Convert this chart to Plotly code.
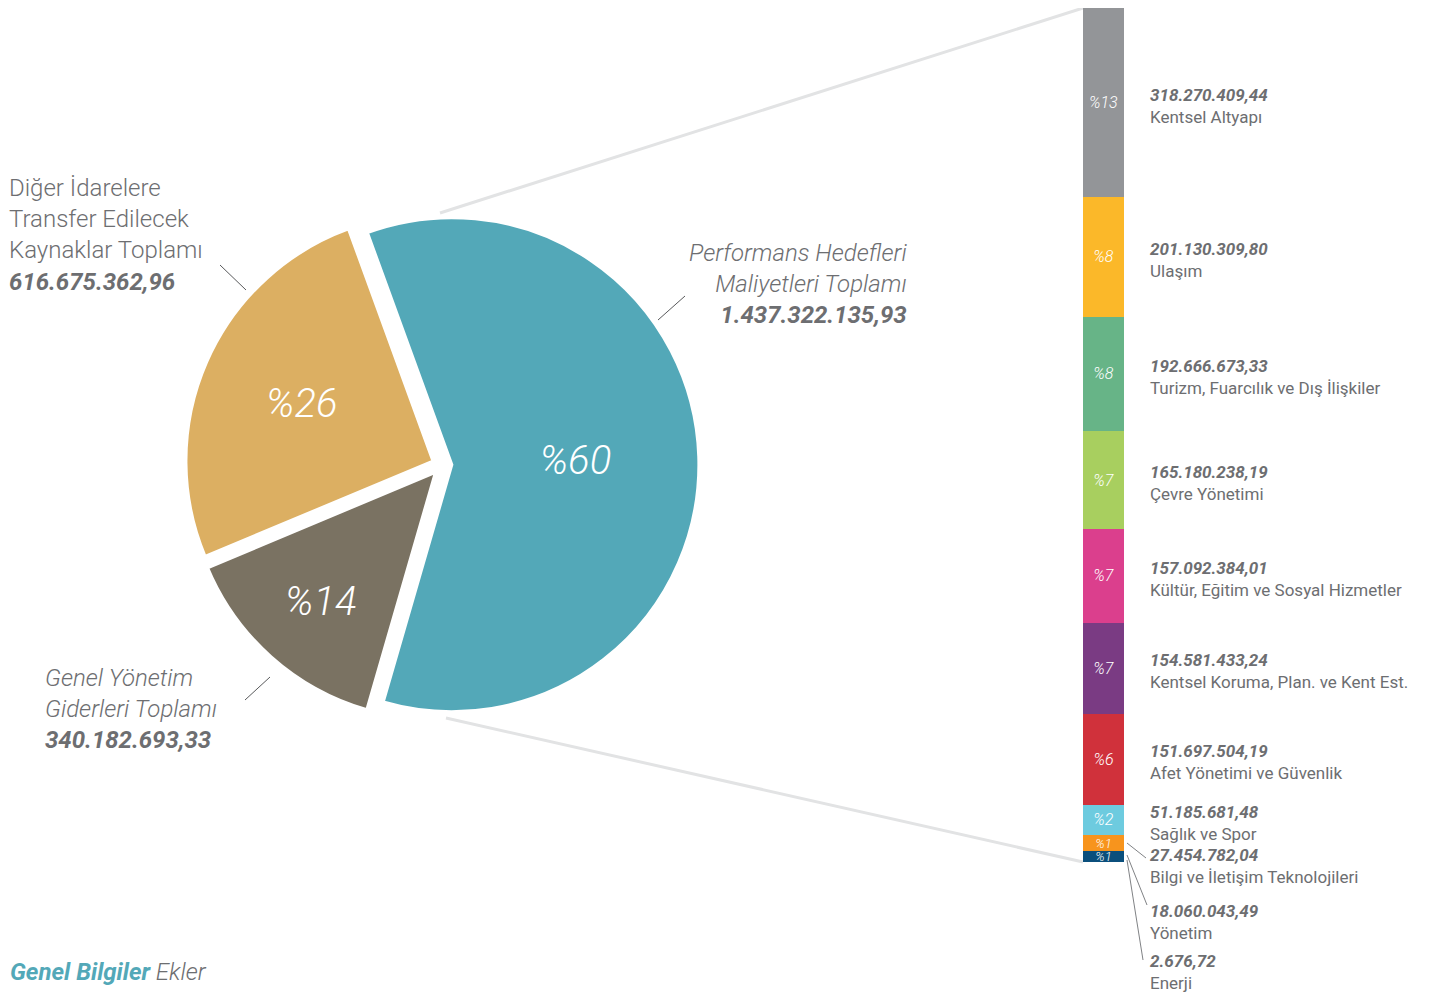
import plotly.graph_objects as go

# pie: three budget groups
pie_labels = ["Performans Hedefleri<br>Maliyetleri Toplamı",
              "Genel Yönetim<br>Giderleri Toplamı",
              "Diğer İdarelere<br>Transfer Edilecek<br>Kaynaklar Toplamı"]
pie_values = [1437322135.93, 340182693.33, 616675362.96]
pie_pct = ["%60", "%14", "%26"]
pie_colors = ["#53A8B8", "#7A7262", "#DCAF62"]

# bar: breakdown of performance targets
bar_labels = ["Kentsel Altyapı", "Ulaşım", "Turizm, Fuarcılık ve Dış İlişkiler",
              "Çevre Yönetimi", "Kültür, Eğitim ve Sosyal Hizmetler",
              "Kentsel Koruma, Plan. ve Kent Est.", "Afet Yönetimi ve Güvenlik",
              "Sağlık ve Spor", "Bilgi ve İletişim Teknolojileri", "Yönetim", "Enerji"]
bar_values = [318270409.44, 201130309.80, 192666673.33, 165180238.19, 157092384.01,
              154581433.24, 151697504.19, 51185681.48, 27454782.04, 18060043.49, 2676.72]
bar_pct = ["%13", "%8", "%8", "%7", "%7", "%7", "%6", "%2", "%1", "%1", ""]
bar_colors = ["#939598", "#FBB829", "#67B487", "#A8CF5F", "#DB3F8D", "#7A3B83",
              "#D0313B", "#6DCBDF", "#F7941D", "#0B4F7C", "#B5D334"]

# page body has an 8px margin, so the figure is drawn inside it
OFF = 8
W, H = 1435 - OFF, 993 - OFF
FONT = "Roboto"
TXT = "#6D6E71"


def tr_num(v):
    s = f"{v:,.2f}"
    return s.replace(",", "#").replace(".", ",").replace("#", ".")


def px(x):
    return (x - OFF) / W


def py(y):
    return min(1, 1 - (y - OFF) / H)


fig = go.Figure()

cx, cy, r, pull = 442, 465, 247, 0.04
half = r * (1 + pull)
fig.add_trace(go.Pie(
    labels=pie_labels, values=pie_values, text=pie_pct,
    marker=dict(colors=pie_colors, line=dict(color="white", width=3)),
    sort=False, direction="clockwise", rotation=-20, pull=pull,
    texttemplate="%{text}", textposition="inside", insidetextorientation="horizontal",
    textfont=dict(family=FONT, size=40, color="white", style="italic", weight=300),
    domain=dict(x=[px(cx - half), px(cx + half)], y=[py(cy + half), py(cy - half)]),
    showlegend=False, hoverinfo="label+value",
))

bar_top, bar_bot = 8, 862
for lab, val, pct, col in zip(bar_labels, bar_values, bar_pct, bar_colors):
    fsize = 13 if pct == "%1" else 16
    fig.add_trace(go.Bar(
        x=[0], y=[val], name=lab, width=1, marker=dict(color=col, line=dict(width=0)),
        text=[pct], textposition="inside", insidetextanchor="middle", textangle=0,
        constraintext="none",
        textfont=dict(family=FONT, size=fsize, color="white", style="italic", weight=300),
        showlegend=False,
    ))

total_bar = sum(bar_values)
ydom = [py(bar_bot), py(bar_top)]
fig.update_layout(
    barmode="stack",
    xaxis=dict(domain=[px(1083), px(1124)], range=[-0.5, 0.5], visible=False, fixedrange=True),
    yaxis=dict(domain=ydom, range=[total_bar, 0], visible=False, fixedrange=True),
)

annotations = []
shapes = []

# right side labels
cum = 0
small_pos = {8: 866, 9: 922, 10: 972}
small_src = {8: 843, 9: 855, 10: 860}
small_end = {8: (1146, 858), 9: (1147, 905), 10: (1143, 960)}
for i, (lab, val) in enumerate(zip(bar_labels, bar_values)):
    mid = cum + val / 2
    cum += val
    txt = f"<b><i>{tr_num(val)}</i></b><br>{lab}"
    if i in small_pos:
        annotations.append(dict(x=px(1148), y=py(small_pos[i]), xref="paper", yref="paper",
                                text=txt, xanchor="left", yanchor="middle", align="left",
                                showarrow=False, font=dict(family=FONT, size=17, color=TXT)))
        x1, y1 = small_end[i]
        shapes.append(dict(type="line", xref="paper", yref="paper",
                           x0=px(1127), y0=py(small_src[i]), x1=px(x1), y1=py(y1),
                           line=dict(color="#808285", width=1)))
    else:
        annotations.append(dict(x=px(1148), y=mid, xref="paper", yref="y", text=txt,
                                xanchor="left", yanchor="middle", align="left", showarrow=False,
                                yshift=-3, font=dict(family=FONT, size=17, color=TXT)))

# pie outer labels
annotations += [
    dict(x=px(7), y=py(235), xref="paper", yref="paper", xanchor="left", yanchor="middle",
         align="left", showarrow=False, font=dict(family=FONT, size=24, color=TXT, weight=300),
         text=f"{pie_labels[2]}<br><b><i>{tr_num(pie_values[2])}</i></b>"),
    dict(x=px(909), y=py(284), xref="paper", yref="paper", xanchor="right", yanchor="middle",
         align="right", showarrow=False,
         font=dict(family=FONT, size=24, color=TXT, weight=300, style="italic"),
         text=f"{pie_labels[0]}<br><b>{tr_num(pie_values[0])}</b>"),
    dict(x=px(43), y=py(709), xref="paper", yref="paper", xanchor="left", yanchor="middle",
         align="left", showarrow=False,
         font=dict(family=FONT, size=24, color=TXT, weight=300, style="italic"),
         text=f"{pie_labels[1]}<br><b>{tr_num(pie_values[1])}</b>"),
    dict(x=px(8), y=py(972), xref="paper", yref="paper", xanchor="left", yanchor="middle",
         align="left", showarrow=False,
         font=dict(family=FONT, size=24, color=TXT, style="italic", weight=300),
         text="<span style='color:#53A8B8'><b>Genel Bilgiler</b></span> Ekler"),
]

# short leader lines at the pie
for x0, y0, x1, y1 in [(220, 265, 246, 290), (658, 320, 685, 296), (245, 700, 270, 677)]:
    shapes.append(dict(type="line", xref="paper", yref="paper",
                       x0=px(x0), y0=py(y0), x1=px(x1), y1=py(y1),
                       line=dict(color="#58595B", width=1)))

# connectors from pie to bar
shapes.append(dict(type="line", xref="paper", yref="paper", layer="below",
                   x0=px(440), y0=py(213), x1=px(1083), y1=ydom[1],
                   line=dict(color="#E2E3E4", width=3)))
shapes.append(dict(type="line", xref="paper", yref="paper", layer="below",
                   x0=px(446), y0=py(718), x1=px(1083), y1=ydom[0],
                   line=dict(color="#E2E3E4", width=3)))

fig.update_layout(
    width=W, height=H, margin=dict(l=0, r=0, t=0, b=0),
    paper_bgcolor="white", plot_bgcolor="rgba(0,0,0,0)",
    annotations=annotations, shapes=shapes,
    font=dict(family=FONT),
)

fig.write_html("out.html")
